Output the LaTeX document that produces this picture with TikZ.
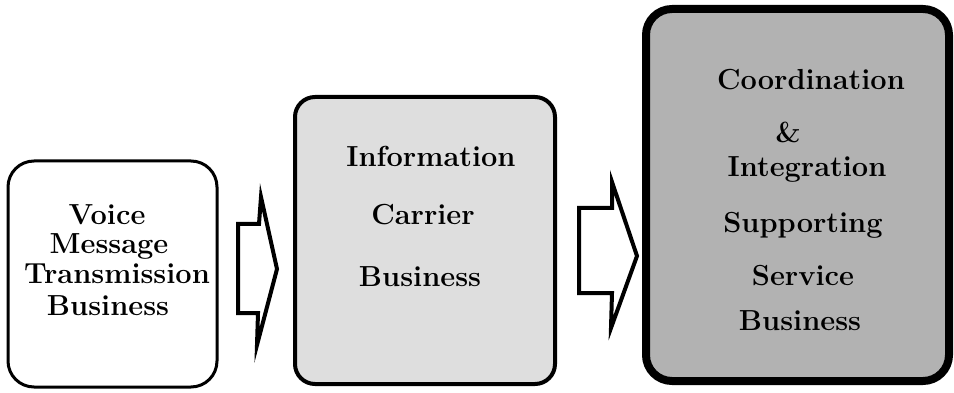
\documentclass[tikz,border=0pt]{standalone}
\usepackage{fontspec}
\begin{document}
\begin{tikzpicture}[x=1pt,y=-1pt,
  boxa/.style={draw=black,line width=3pt,rounded corners=26pt,fill=white},
  boxb/.style={draw=black,line width=4pt,rounded corners=20pt,fill=black!13},
  boxc/.style={draw=black,line width=8pt,rounded corners=26pt,fill=black!30},
  blockarrow/.style={draw=black,line width=4pt,fill=white,line join=miter},
  lbl/.style={anchor=base,inner sep=0pt,font=\fontsize{29}{30}\selectfont\bfseries}]
\useasboundingbox (0,0) rectangle (954,393);
% boxes
\draw[boxa] (8,161) rectangle (217,387);
\draw[boxb] (295,97) rectangle (555,384);
\draw[boxc] (646,9) rectangle (949,381);
% block arrows
\coordinate (a1s) at (238,224);
\draw[blockarrow] (a1s) -- (259,224) -- (261,197) -- (277,269) -- (257,345) -- (258,313) -- (238,313) -- cycle;
\coordinate (a2s) at (579,208);
\draw[blockarrow] (a2s) -- (612,208) -- (612,182) -- (637,256) -- (611,328) -- (612,293) -- (579,293) -- cycle;
% box 1 text
\node[lbl] (t1a) at (107,225) {Voice};
\node[lbl] (t1b) at (109,253) {Message};
\node[lbl] (t1c) at (117,283) {Transmission};
\node[lbl] (t1d) at (108,315) {Business};
% box 2 text
\node[lbl] (t2a) at (431,167) {Information};
\node[lbl] (t2b) at (423,225) {Carrier};
\node[lbl] (t2c) at (420,287) {Business};
% box 3 text
\node[lbl] (t3a) at (811,90) {Coordination};
\node[lbl] (t3b) at (788,143) {\&};
\node[lbl] (t3c) at (807,177) {Integration};
\node[lbl] (t3d) at (803,233) {Supporting};
\node[lbl] (t3e) at (803,285) {Service};
\node[lbl] (t3f) at (800,330) {Business};
\end{tikzpicture}
\end{document}
